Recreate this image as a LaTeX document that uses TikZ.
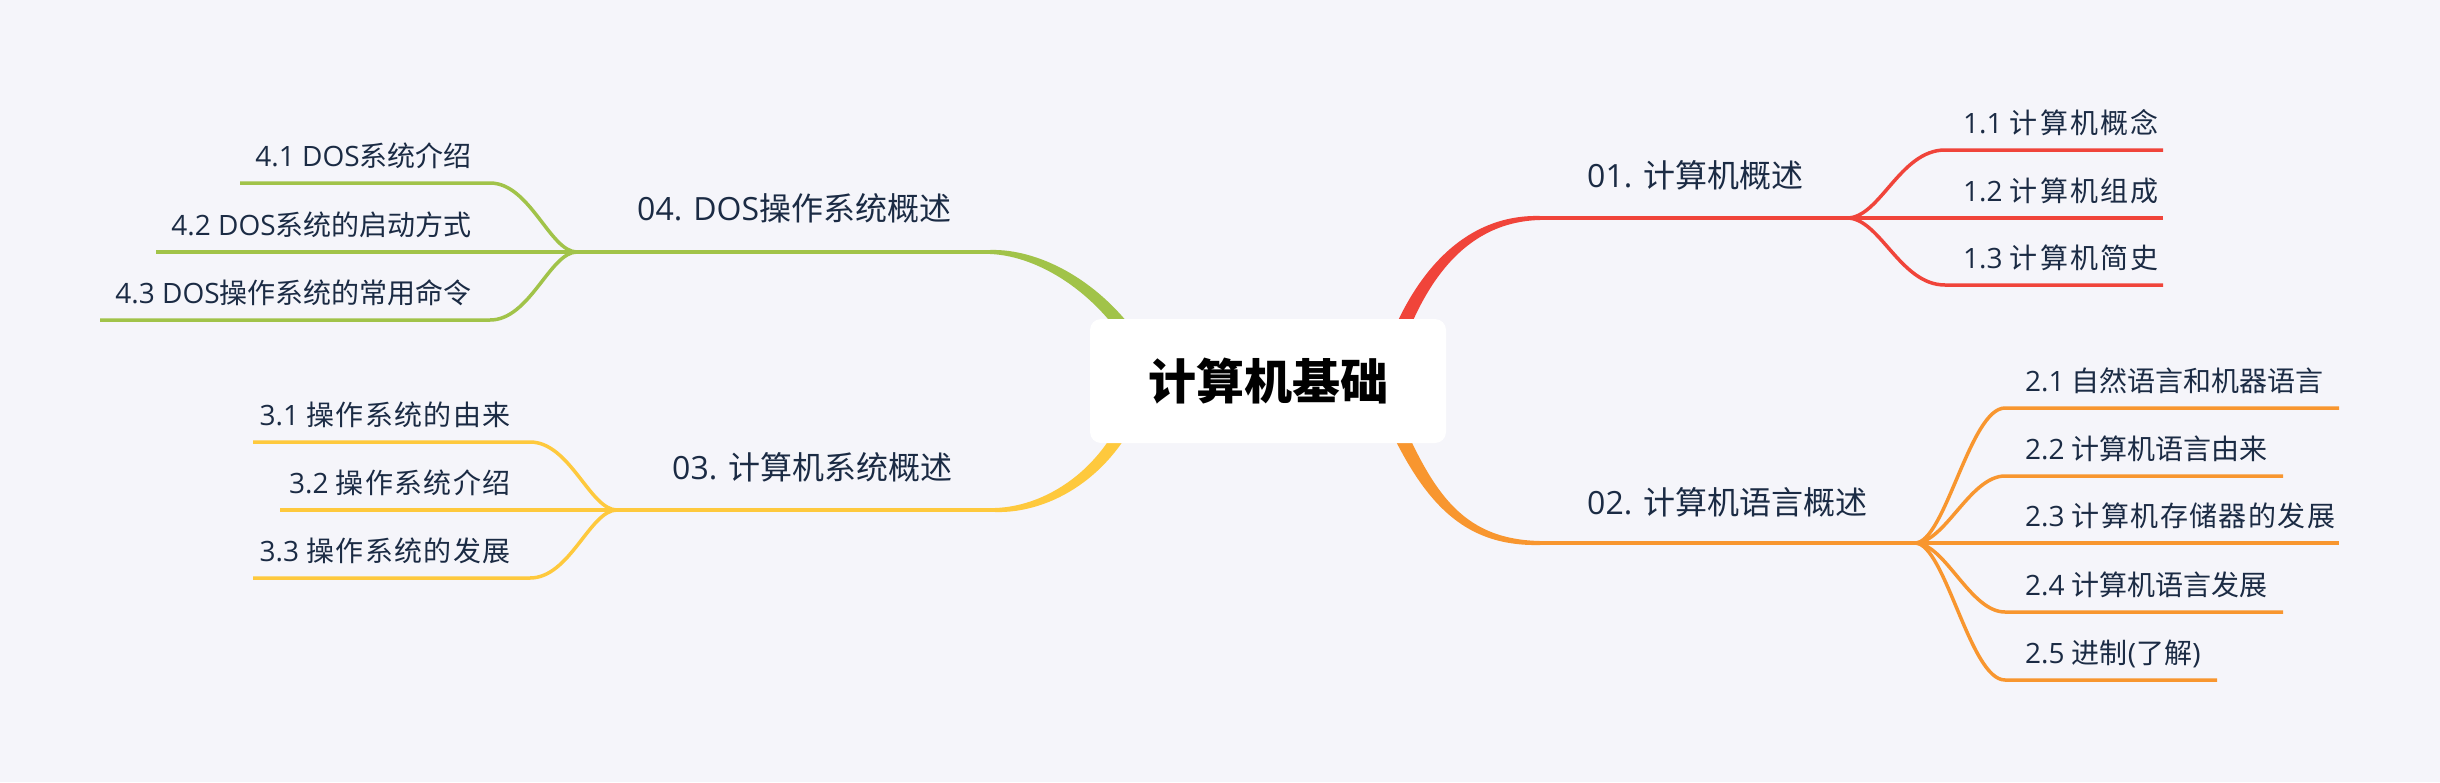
\documentclass[tikz,border=0pt]{standalone}
\usepackage{fontspec}
\setmainfont{Open Sans}
\newfontfamily\cjk{Noto Sans CJK SC}
\usetikzlibrary{calc}
\definecolor{bg}{HTML}{F5F5FA}
\definecolor{txt}{HTML}{1B2B44}
\definecolor{cred}{HTML}{F0443A}
\definecolor{corange}{HTML}{F8962F}
\definecolor{cyellow}{HTML}{FEC93D}
\definecolor{cgreen}{HTML}{A1C349}
\newcommand\ls[2]{{\addfontfeature{LetterSpace=#1}#2}}
\newcommand\mmtrunk[5]{%
 \fill[#1] ($(#2)!7.5pt!90:(#3)$) .. controls ($(#3)!7pt!90:(#4)$) and ($(#4)!3.8pt!90:(#5)$) .. ($(#5)!2pt!-90:(#4)$)
   -- ($(#5)!2pt!90:(#4)$) .. controls ($(#4)!3.8pt!-90:(#5)$) and ($(#3)!7pt!-90:(#4)$) .. ($(#2)!7.5pt!-90:(#3)$) -- cycle;}
\tikzset{
 sub/.style={inner sep=0pt, text=txt, font=\fontsize{28}{34}\selectfont},
 topic/.style={inner sep=0pt, text=txt, font=\fontsize{32}{38}\selectfont},
 mainline/.style={line width=4pt},
 subline/.style={line width=3.5pt},
 rootbox/.style={fill=white, rounded corners=11pt, minimum width=356pt, minimum height=124pt, inner sep=0pt, text=black, font=\fontsize{48}{56}\selectfont\cjk\bfseries}
}
\begin{document}
\begin{tikzpicture}[x=1pt,y=-1pt,line cap=butt]
\fill[bg] (0,0) rectangle (2440,782);
\useasboundingbox (0,0) rectangle (2440,782);

% ---------- coordinates ----------
% red
\coordinate (r0) at (1390,360); \coordinate (r1) at (1420,270); \coordinate (r2) at (1470,218); \coordinate (r3) at (1540,218);
\coordinate (rs) at (1847,218); \coordinate (r2e) at (2163,218);
\coordinate (r1s) at (1945,150); \coordinate (r1e) at (2163,150);
\coordinate (r3s) at (1945,285); \coordinate (r3e) at (2163,285);
% orange
\coordinate (o0) at (1385,400); \coordinate (o1) at (1425,495); \coordinate (o2) at (1460,543); \coordinate (o3) at (1540,543);
\coordinate (os) at (1915,543); \coordinate (o3e) at (2339,543);
\coordinate (o1s) at (2005,408); \coordinate (o1e) at (2339,408);
\coordinate (o2s) at (2005,476); \coordinate (o2e) at (2283,476);
\coordinate (o4s) at (2005,612); \coordinate (o4e) at (2283,612);
\coordinate (o5s) at (2005,680); \coordinate (o5e) at (2217,680);
% green
\coordinate (g0) at (1150,370); \coordinate (g1) at (1110,290); \coordinate (g2) at (1040,252); \coordinate (g3) at (990,252);
\coordinate (gs) at (577,252); \coordinate (g2e) at (156,252);
\coordinate (g1s) at (490,183); \coordinate (g1e) at (240,183);
\coordinate (g3s) at (490,320); \coordinate (g3e) at (100,320);
% yellow
\coordinate (y0) at (1140,390); \coordinate (y1) at (1115,470); \coordinate (y2) at (1050,510); \coordinate (y3) at (995,510);
\coordinate (ys) at (617,510); \coordinate (y2e) at (280,510);
\coordinate (y1s) at (530,442); \coordinate (y1e) at (253,442);
\coordinate (y3s) at (530,578); \coordinate (y3e) at (253,578);

% ---------- trunks ----------
\mmtrunk{cred}{r0}{r1}{r2}{r3}
\mmtrunk{corange}{o0}{o1}{o2}{o3}
\mmtrunk{cgreen}{g0}{g1}{g2}{g3}
\mmtrunk{cyellow}{y0}{y1}{y2}{y3}

% ---------- topic lines ----------
\draw[cred,mainline] (r3) -- (rs);
\draw[cred,subline] (rs) -- (r2e);
\draw[cred,subline] (rs) .. controls +(33,0) and +(-45,0) .. (r1s) -- (r1e);
\draw[cred,subline] (rs) .. controls +(33,0) and +(-45,0) .. (r3s) -- (r3e);

\draw[corange,mainline] (o3) -- (os);
\draw[corange,subline] (os) -- (o3e);
\draw[corange,subline] (os) .. controls +(30,0) and +(-35,0) .. (o1s) -- (o1e);
\draw[corange,subline] (os) .. controls +(30,0) and +(-35,0) .. (o2s) -- (o2e);
\draw[corange,subline] (os) .. controls +(30,0) and +(-35,0) .. (o4s) -- (o4e);
\draw[corange,subline] (os) .. controls +(30,0) and +(-35,0) .. (o5s) -- (o5e);

\draw[cgreen,mainline] (g3) -- (gs);
\draw[cgreen,subline] (gs) -- (g2e);
\draw[cgreen,subline] (gs) .. controls +(-27,0) and +(40,0) .. (g1s) -- (g1e);
\draw[cgreen,subline] (gs) .. controls +(-27,0) and +(40,0) .. (g3s) -- (g3e);

\draw[cyellow,mainline] (y3) -- (ys);
\draw[cyellow,subline] (ys) -- (y2e);
\draw[cyellow,subline] (ys) .. controls +(-27,0) and +(40,0) .. (y1s) -- (y1e);
\draw[cyellow,subline] (ys) .. controls +(-27,0) and +(40,0) .. (y3s) -- (y3e);

% ---------- root ----------
\node[rootbox] (root) at (1268,381) {计算机基础};

% ---------- topic labels ----------
\node[topic,anchor=base west] (t1) at (1587,187) {01. {\cjk 计算机概述}};
\node[topic,anchor=base west] (t2) at (1587,514) {02. {\cjk 计算机语言概述}};
\node[topic,anchor=base west] (t3) at (672,479) {03. {\cjk 计算机系统概述}};
\node[topic,anchor=base west] (t4) at (637,220) {04. DOS{\cjk 操作系统概述}};

% ---------- sub labels ----------
\node[sub,anchor=base west] (s11) at (1963,133.5) {1.1 {\cjk\ls{8}{计算机概念}}};
\node[sub,anchor=base west] (s12) at (1963,201.5) {1.2 {\cjk\ls{8}{计算机组成}}};
\node[sub,anchor=base west] (s13) at (1963,268.5) {1.3 {\cjk\ls{8}{计算机简史}}};

\node[sub,anchor=base west] (s21) at (2025,391.5) {2.1 {\cjk 自然语言和机器语言}};
\node[sub,anchor=base west] (s22) at (2025,459.5) {2.2 {\cjk 计算机语言由来}};
\node[sub,anchor=base west] (s23) at (2025,526.5) {2.3 {\cjk\ls{5}{计算机存储器的发展}}};
\node[sub,anchor=base west] (s24) at (2025,595.5) {2.4 {\cjk 计算机语言发展}};
\node[sub,anchor=base west] (s25) at (2025,663.5) {2.5 {\cjk 进制}({\cjk 了解})};

\node[sub,anchor=base east] (s31) at (511,425.5) {3.1 {\cjk\ls{5}{操作系统的由来}}};
\node[sub,anchor=base east] (s32) at (511,493.5) {3.2 {\cjk\ls{5}{操作系统介绍}}};
\node[sub,anchor=base east] (s33) at (511,561.5) {3.3 {\cjk\ls{5}{操作系统的发展}}};

\node[sub,anchor=base east] (s41) at (472,166.5) {4.1 DOS{\cjk 系统介绍}};
\node[sub,anchor=base east] (s42) at (472,235.5) {4.2 DOS{\cjk 系统的启动方式}};
\node[sub,anchor=base east] (s43) at (472,303.5) {4.3 DOS{\cjk 操作系统的常用命令}};
\end{tikzpicture}
\end{document}
